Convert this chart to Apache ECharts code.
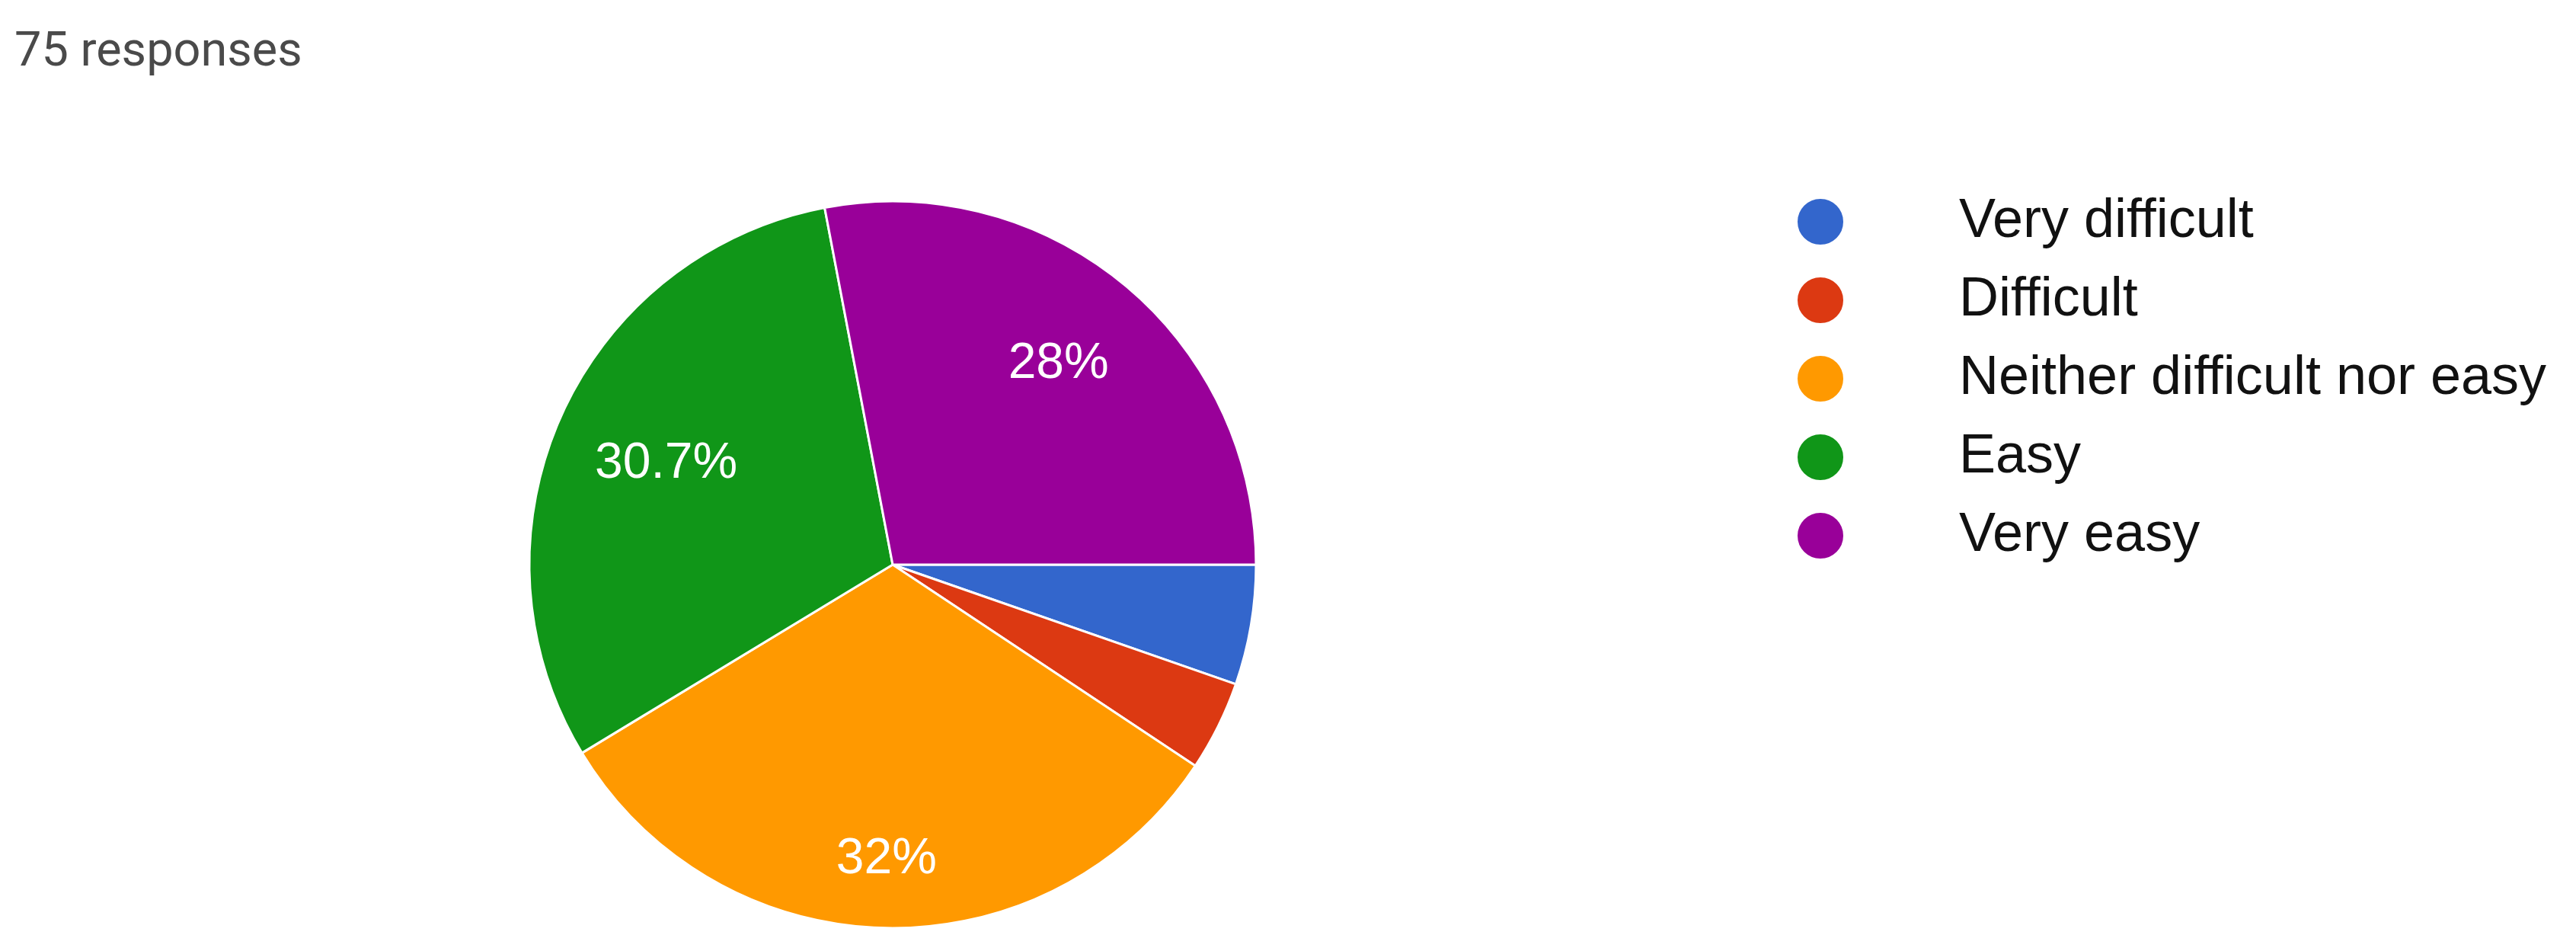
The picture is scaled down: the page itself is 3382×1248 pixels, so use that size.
<!DOCTYPE html>
<html>
<head>
<meta charset="utf-8">
<script src="https://cdn.jsdelivr.net/npm/echarts@6/dist/echarts.min.js"></script>
<style>
  html, body { margin: 0; padding: 0; background: #fff; }
  #main { width: 3382px; height: 1248px; }
</style>
</head>
<body>
<div id="main"></div>
<script>
var titleText = '75 responses';
var categories = ['Very difficult', 'Difficult', 'Neither difficult nor easy', 'Easy', 'Very easy'];
var counts = [4, 3, 24, 23, 21];
var colors = ['#3366cc', '#dc3912', '#ff9900', '#109618', '#990099'];
// inner radius of the invisible ring used to place each slice's percent label
var labelInner = [220, 220, 290, 168, 200];

var pieCenter = [1172, 741];
var pieRadius = 477;

var pieData = categories.map(function (name, i) {
  return { name: name, value: counts[i] };
});

function pctLabel(p) {
  return (Math.round(p.percent * 10) / 10) + '%';
}

// one transparent ring per labelled slice, so each label sits at its own distance
function labelRing(idx) {
  return {
    type: 'pie',
    center: pieCenter,
    radius: [labelInner[idx], pieRadius],
    startAngle: 0,
    clockwise: true,
    silent: true,
    itemStyle: { color: 'rgba(0,0,0,0)' },
    labelLine: { show: false },
    label: { show: false },
    data: pieData.map(function (d, i) {
      return {
        name: d.name,
        value: d.value,
        label: {
          show: i === idx,
          position: 'inside',
          formatter: pctLabel,
          fontFamily: 'Liberation Sans',
          fontSize: 66,
          color: '#fff'
        }
      };
    })
  };
}

var series = [{
  type: 'pie',
  center: pieCenter,
  radius: pieRadius,
  startAngle: 0,
  clockwise: true,
  silent: true,
  data: pieData,
  itemStyle: { borderColor: '#fff', borderWidth: 3 },
  label: { show: false },
  labelLine: { show: false }
}];
counts.forEach(function (c, i) {
  if (c / 75 >= 0.1) series.push(labelRing(i));
});

var chart = echarts.init(document.getElementById('main'));

chart.setOption({
  animation: false,
  color: colors,
  title: {
    text: titleText,
    left: 14,
    top: 34,
    textStyle: {
      fontFamily: 'Roboto',
      fontWeight: 'normal',
      fontSize: 63,
      color: '#4a4a4a'
    }
  },
  legend: {
    orient: 'vertical',
    left: 2353,
    top: 250,
    icon: 'circle',
    itemWidth: 62,
    itemHeight: 62,
    itemGap: 31,
    selectedMode: false,
    data: categories,
    textStyle: {
      fontFamily: 'Liberation Sans',
      fontSize: 72,
      color: '#111',
      padding: [0, 0, 0, 146]
    }
  },
  series: series
});
</script>
</body>
</html>
